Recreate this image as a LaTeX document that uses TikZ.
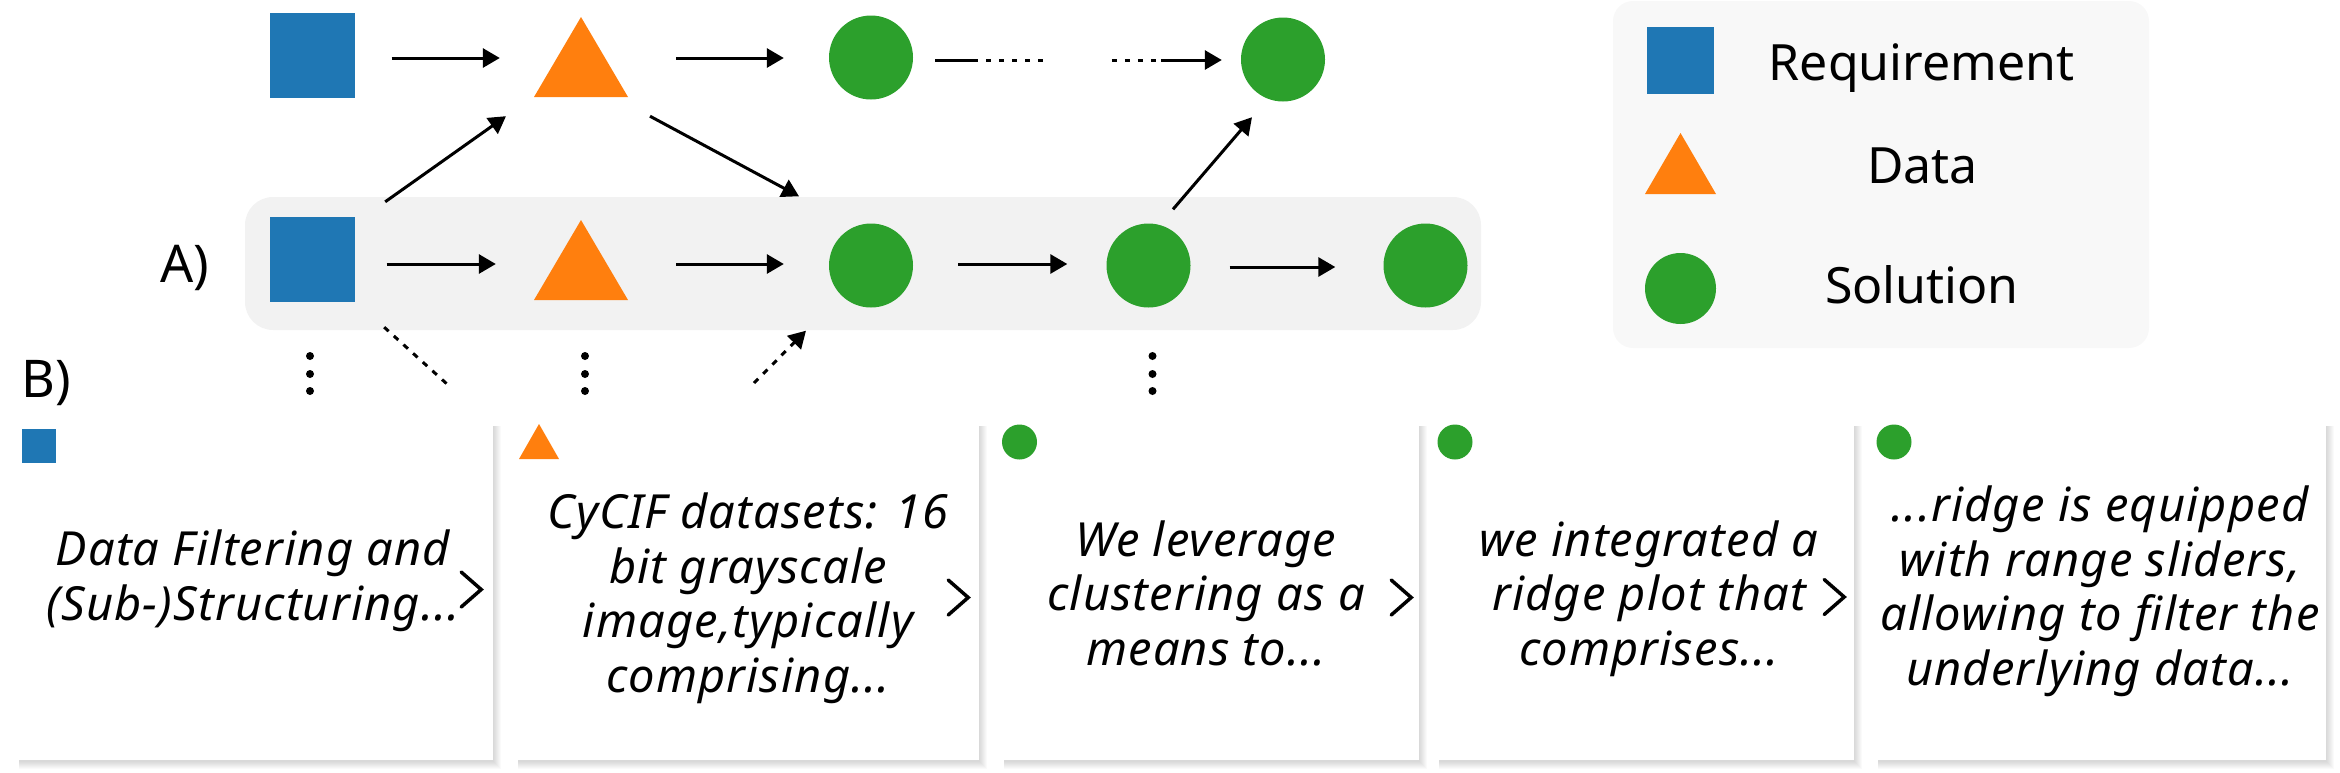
\documentclass[tikz,border=0pt]{standalone}
\usepackage{fontspec}
\setmainfont{Noto Sans}
\usetikzlibrary{arrows.meta,calc,backgrounds}
\definecolor{cblue}{HTML}{1F77B4}
\definecolor{corange}{HTML}{FF7F0E}
\definecolor{cgreen}{HTML}{2CA02C}
\definecolor{bandgray}{HTML}{F2F2F2}
\definecolor{leggray}{HTML}{F8F8F8}
\begin{document}
\begin{tikzpicture}[x=1pt,y=-1pt,
  sqr/.style={rectangle,fill=cblue,minimum size=85pt,inner sep=0pt},
  tri/.style={rectangle,minimum width=94pt,minimum height=80pt,inner sep=0pt,
    path picture={\fill[corange] (path picture bounding box.south west)--(path picture bounding box.south east)--(path picture bounding box.north)--cycle;}},
  crc/.style={circle,fill=cgreen,minimum size=84pt,inner sep=0pt},
  arr/.style={line width=3pt,-{Triangle[length=17pt,width=19pt]}},
  dotln/.style={line width=3pt,dash pattern=on 5pt off 8pt},
  diagdot/.style={line width=3pt,dash pattern=on 6pt off 7pt},
  card/.style={rectangle,fill=white,inner sep=0pt,minimum height=336pt},
  ctext/.style={font=\fontsize{47}{54.5}\selectfont\itshape\addfontfeatures{LetterSpace=2.5},align=center,anchor=base,inner sep=0pt},
  lgtext/.style={font=\fontsize{50}{60}\selectfont,anchor=base,inner sep=0pt},
  lbl/.style={font=\fontsize{52}{60}\selectfont,anchor=base,inner sep=0pt},
  chev/.style={line width=3.5pt,line cap=round,line join=miter}
]
\useasboundingbox (0,0) rectangle (2340,772);
% band and legend background
\fill[bandgray,rounded corners=28pt] (245,197) rectangle (1481,330);
\fill[leggray,rounded corners=20pt] (1613,1) rectangle (2149,348);
% top row
\node[sqr] (s1) at (312,55) {};
\node[tri] (t1) at (581,57) {};
\node[crc] (c1) at (871,57.5) {};
\node[crc] (c4) at (1283,59.5) {};
% bottom row
\node[sqr] (s2) at (312,259.5) {};
\node[tri] (t2) at (581,260) {};
\node[crc] (c2) at (871,265.5) {};
\node[crc] (c3) at (1148.5,265.5) {};
\node[crc] (c5) at (1425.5,265.5) {};
% labels
\node[lbl] (lA) at (185,282) {A)};
\node[lbl] (lB) at (46,397) {B)};
% top arrows
\draw[arr] ($(s1.east)+(37,3)$) -- ($(t1.west)+(-34,1)$);
\draw[arr] ($(t1.east)+(48,1)$) -- ($(c1.west)+(-45,0.5)$);
\draw[line width=3pt] ($(c1.east)+(22,2.5)$) -- ++(43,0) coordinate (d1);
\draw[dotln] ($(d1)+(8,0)$) -- ++(58,0);
\draw[dotln] ($(c4.west)+(-129,0.5)$) -- ++(48,0);
\draw[arr] ($(c4.west)+(-80,0.5)$) -- ($(c4.west)+(-19,0.5)$);
% bottom arrows
\draw[arr] ($(s2.east)+(32,4.5)$) -- ($(t2.west)+(-38,4)$);
\draw[arr] ($(t2.east)+(48,4)$) -- ($(c2.west)+(-45,-1.5)$);
\draw[arr] ($(c2.east)+(45,-1.5)$) -- ($(c3.west)+(-39,-1.5)$);
\draw[arr] ($(c3.east)+(39,1.5)$) -- ($(c5.west)+(-48,1.5)$);
% diagonal arrows
\draw[arr] ($(s2.north east)+(30.5,-15)$) -- ($(t1.south)+(-75,19)$);
\draw[arr] ($(t1.south)+(69,19)$) -- ($(c2.north)+(-72,-27)$);
\draw[arr] ($(c3.north)+(24.5,-14)$) -- ($(c4.south)+(-31,15.5)$);
% dotted connectors
\coordinate (q1) at (447,384);
\coordinate (q2) at (754,383);
\draw[diagdot] ($(s2.south east)+(29.5,25)$) -- (q1);
\draw[diagdot,-{Triangle[length=17pt,width=19pt]}] (q2) -- ($(c2.south)+(-65,23)$);
% vertical dots
\foreach \x in {310,585,1152.5}{
  \foreach \y in {356,374,391}{\fill (\x,\y) circle (4pt);}
}
% legend
\node[sqr,minimum size=67pt] (ls) at (1680.5,60.5) {};
\node[tri,minimum width=71pt,minimum height=61pt] (lt) at (1680.5,163.5) {};
\node[crc,minimum size=71pt] (lc) at (1680.5,288.5) {};
\node[lgtext] (lreq) at (1921.5,80) {Requirement};
\node[lgtext] (ldat) at (1922.5,183) {Data};
\node[lgtext] (lsol) at (1922,303) {Solution};
% cards
\node[card,minimum width=476pt] (k1) at (255,592) {};
\node[card,minimum width=463pt] (k2) at (747.5,592) {};
\node[card,minimum width=417pt] (k3) at (1210.5,592) {};
\node[card,minimum width=417pt] (k4) at (1645.5,592) {};
\node[card,minimum width=450pt] (k5) at (2101,592) {};
\begin{scope}[on background layer]
\foreach \c in {k1,k2,k3,k4,k5}{
  \foreach \k in {1,...,8}{
    \fill[black,opacity=0.02] ($(\c.north west)+(2,2)$) rectangle ($(\c.south east)+(\k,\k+1)$);
  }
}
\end{scope}
% card icons
\node[sqr,minimum size=34pt] (i1) at (39,446) {};
\node[tri,minimum width=40pt,minimum height=35pt] (i2) at (539,441.5) {};
\node[crc,minimum size=35pt] (i3) at (1019.5,442) {};
\node[crc,minimum size=35pt] (i4) at (1455,442) {};
\node[crc,minimum size=35pt] (i5) at (1894,442) {};
% card texts (base anchor = last line baseline)
\node[ctext] (x1) at (253,620) {Data Filtering and\\(Sub-)Structuring...};
\node[ctext] (x2) at (748,692) {CyCIF datasets: 16\\bit grayscale\\image,typically\\comprising...};
\node[ctext] (x3) at (1206,665) {We leverage\\clustering as a\\means to...};
\node[ctext] (x4) at (1649,665) {we integrated a\\ridge plot that\\comprises...};
\node[ctext] (x5) at (2100,685) {...ridge is equipped\\with range sliders,\\allowing to filter the\\underlying data...};
% chevrons
\draw[chev] ($(k1.east)+(-32,-20)$) -- ($(k1.east)+(-12,-2.5)$) -- ($(k1.east)+(-32,15)$);
\draw[chev] ($(k2.east)+(-31,-12)$) -- ($(k2.east)+(-11,5.5)$) -- ($(k2.east)+(-31,23)$);
\draw[chev] ($(k3.east)+(-28,-12)$) -- ($(k3.east)+(-8,5.5)$) -- ($(k3.east)+(-28,23)$);
\draw[chev] ($(k4.east)+(-30,-12.5)$) -- ($(k4.east)+(-10,5)$) -- ($(k4.east)+(-30,22.5)$);
\end{tikzpicture}
\end{document}
